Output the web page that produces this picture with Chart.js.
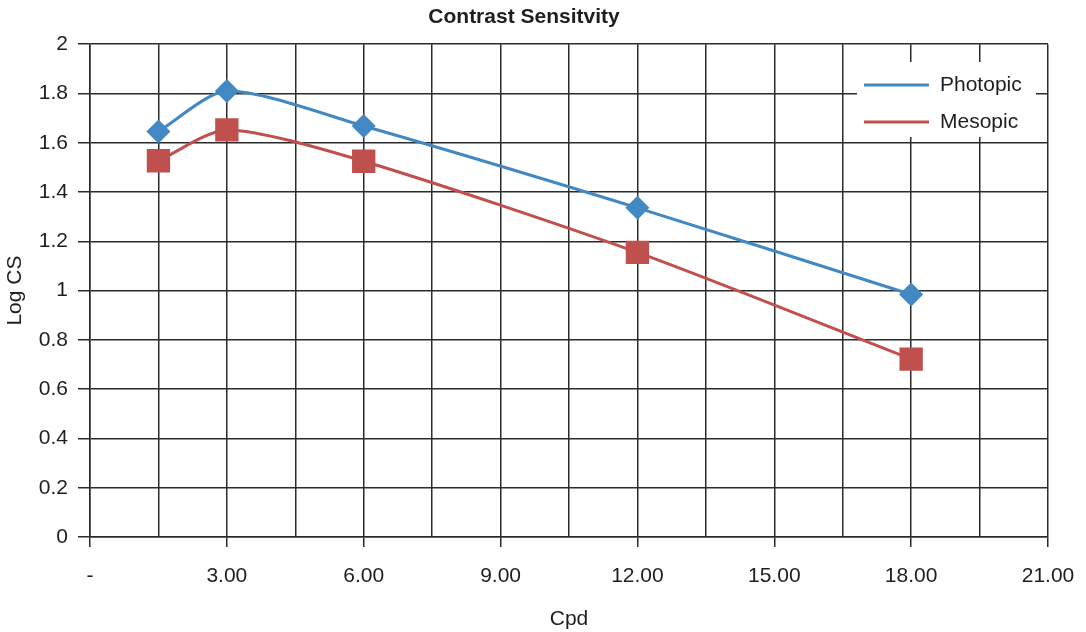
<!DOCTYPE html>
<html>
<head>
<meta charset="utf-8">
<script src="https://cdn.jsdelivr.net/npm/chart.js@4"></script>
<style>
  html, body { margin: 0; padding: 0; background: #fff; }
  #wrap { width: 1086px; height: 632px; }
</style>
</head>
<body>
<div id="wrap"><canvas id="csChart"></canvas></div>
<script>
// spatial frequency (cycles per degree) and log contrast sensitivity
const cpd = [1.5, 3, 6, 12, 18];
const photopic = [1.646, 1.81, 1.668, 1.336, 0.984];
const mesopic = [1.527, 1.652, 1.525, 1.155, 0.722];

const gridColor = '#2b2b2b';
const textColor = '#1e1e1e';
const fontFamily = '"Liberation Sans", Arial, Helvetica, sans-serif';

// legend drawn inside the plot area, on a white box
const insideLegend = {
    id: 'insideLegend',
    afterDatasetsDraw(chart) {
        const ctx = chart.ctx;
        const x0 = 857, y0 = 62, w = 179, h = 75;
        ctx.save();
        ctx.fillStyle = '#fff';
        ctx.fillRect(x0, y0, w, h);
        ctx.font = '21px ' + fontFamily;
        ctx.textBaseline = 'middle';
        chart.data.datasets.forEach((ds, i) => {
            const y = 85 + i * 37;
            ctx.strokeStyle = ds.borderColor;
            ctx.lineWidth = 3;
            ctx.beginPath();
            ctx.moveTo(864, y);
            ctx.lineTo(929, y);
            ctx.stroke();
            ctx.fillStyle = textColor;
            ctx.fillText(ds.label, 940, y);
        });
        ctx.restore();
    }
};

const ctx = document.getElementById('csChart').getContext('2d');
new Chart(ctx, {
    type: 'line',
    data: {
        datasets: [{
            label: 'Photopic',
            data: cpd.map((x, i) => ({ x: x, y: photopic[i] })),
            borderColor: '#4288c3',
            backgroundColor: '#4288c3',
            borderWidth: 3,
            pointStyle: 'rectRot',
            pointRadius: 12,
            pointBorderWidth: 0,
            tension: 0.25
        }, {
            label: 'Mesopic',
            data: cpd.map((x, i) => ({ x: x, y: mesopic[i] })),
            borderColor: '#c0504d',
            backgroundColor: '#c0504d',
            borderWidth: 3,
            pointStyle: 'rect',
            pointRadius: 16.5,
            pointBorderWidth: 0,
            tension: 0.25
        }]
    },
    options: {
        responsive: true,
        maintainAspectRatio: false,
        animation: false,
        layout: { padding: { left: 0, right: 38, top: 0, bottom: 0 } },
        plugins: {
            legend: { display: false },
            tooltip: { enabled: false },
            title: {
                display: true,
                text: 'Contrast Sensitvity',
                color: textColor,
                font: { family: fontFamily, size: 21, weight: 'bold' },
                padding: { top: 5, bottom: 14 }
            }
        },
        scales: {
            x: {
                type: 'linear',
                min: 0,
                max: 21,
                afterFit: scale => {
                    scale.height = 95;
                    scale.paddingLeft = 0;
                    scale.paddingRight = 0;
                },
                border: { color: gridColor, width: 1.5 },
                grid: {
                    color: gridColor,
                    lineWidth: 1.5,
                    tickLength: 10,
                    tickColor: c => (c.tick && c.tick.value % 3 === 0) ? gridColor : 'rgba(0,0,0,0)'
                },
                ticks: {
                    stepSize: 1.5,
                    autoSkip: false,
                    maxRotation: 0,
                    padding: 17,
                    color: textColor,
                    font: { family: fontFamily, size: 21 },
                    callback: v => v === 0 ? '-' : (v % 3 === 0 ? v.toFixed(2) : '')
                },
                title: {
                    display: true,
                    text: 'Cpd',
                    color: textColor,
                    font: { family: fontFamily, size: 21 },
                    padding: { top: 0, bottom: 0 }
                }
            },
            y: {
                min: 0,
                max: 2,
                afterFit: scale => { scale.width = 90; },
                border: { color: gridColor, width: 1.5 },
                grid: {
                    color: gridColor,
                    lineWidth: 1.5,
                    tickLength: 12,
                    tickColor: gridColor
                },
                ticks: {
                    stepSize: 0.2,
                    padding: 10,
                    color: textColor,
                    font: { family: fontFamily, size: 21 },
                    callback: v => String(Math.round(v * 10) / 10)
                },
                title: {
                    display: true,
                    text: 'Log CS',
                    color: textColor,
                    font: { family: fontFamily, size: 21 },
                    padding: { top: 3, bottom: 0 }
                }
            }
        }
    },
    plugins: [insideLegend]
});
</script>
</body>
</html>
